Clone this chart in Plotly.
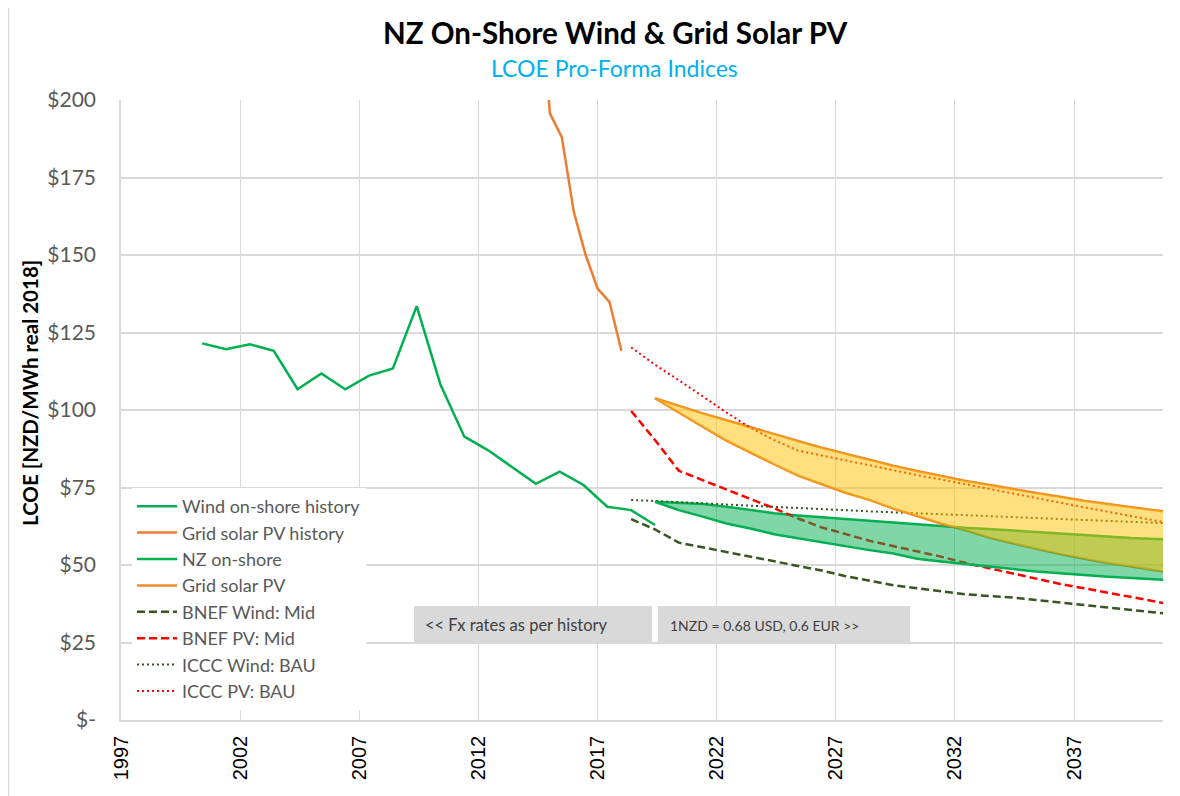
import plotly.graph_objects as go

# ---------------- data ----------------
wind_hist_x = [2000.41, 2001.41, 2002.41, 2003.41, 2004.41, 2005.41, 2006.41, 2007.41,
               2008.41, 2009.41, 2010.41, 2011.41, 2012.41, 2013.41, 2014.41, 2015.41,
               2016.41, 2017.41, 2018.41, 2019.41]
wind_hist_y = [121.5, 119.6, 121.2, 119.1, 106.7, 111.8, 106.7, 111.1, 113.4, 133.5,
               108.1, 91.4, 87.0, 81.7, 76.2, 80.1, 75.8, 68.8, 67.7, 62.9]

solar_hist_x = [2014.5, 2015.0, 2015.5, 2016.0, 2016.5, 2017.0, 2017.5, 2018.0]
solar_hist_y = [245.0, 195.7, 188.0, 164.0, 150.0, 139.2, 134.9, 119.1]

band_x = [2019.41, 2020.41, 2021.41, 2022.41, 2023.41, 2024.41, 2025.41, 2026.41,
          2027.41, 2028.41, 2029.41, 2030.41, 2031.41, 2032.41, 2033.41, 2034.41,
          2035.41, 2036.41, 2037.41, 2038.41, 2039.41, 2040.41, 2041.41]
wind_upper = [70.4, 70.1, 69.7, 68.8, 67.7, 66.7, 66.0, 65.4, 64.8, 64.3, 63.8, 63.2,
              62.6, 62.0, 61.6, 61.2, 60.6, 60.2, 59.7, 59.1, 58.7, 58.4, 58.1]
wind_lower = [70.4, 67.7, 65.6, 63.4, 61.8, 59.9, 58.6, 57.3, 55.9, 54.8, 53.7, 52.0,
              51.1, 50.3, 49.3, 48.6, 47.9, 47.3, 46.7, 46.2, 45.8, 45.4, 44.9]
solar_upper = [103.8, 101.3, 98.9, 96.7, 94.4, 92.1, 90.0, 87.8, 85.8, 83.9, 82.0, 80.3,
               78.7, 77.2, 75.9, 74.5, 73.2, 72.0, 70.7, 69.7, 68.6, 67.5, 66.6]
solar_lower = [103.8, 99.1, 94.6, 90.1, 86.2, 82.5, 78.8, 76.1, 73.3, 71.0, 68.2, 65.8,
               63.4, 61.3, 58.9, 57.0, 55.2, 53.5, 52.0, 50.6, 49.5, 48.2, 47.1]

ref_x = [2018.41, 2019.41, 2020.41, 2021.41, 2022.41, 2023.41, 2024.41, 2025.41,
         2026.41, 2027.41, 2028.41, 2029.41, 2030.41, 2031.41, 2032.41, 2033.41,
         2034.41, 2035.41, 2036.41, 2037.41, 2038.41, 2039.41, 2040.41, 2041.41]
bnef_wind = [64.8, 61.5, 57.2, 55.7, 54.3, 52.9, 51.4, 49.7, 48.2, 46.4, 44.9, 43.5,
             42.5, 41.5, 40.6, 40.0, 39.5, 38.7, 37.8, 37.1, 36.3, 35.5, 34.6, 33.9]
bnef_pv = [99.7, 90.3, 80.4, 77.4, 74.4, 71.5, 68.3, 65.0, 62.1, 60.0, 57.8, 56.1,
           54.4, 52.7, 50.7, 49.0, 47.3, 45.7, 43.9, 42.5, 41.1, 39.8, 38.2, 36.8]
iccc_wind = [71.0, 70.7, 70.3, 69.9, 69.5, 69.1, 68.7, 68.3, 67.9, 67.6, 67.3, 67.0,
             66.7, 66.4, 66.1, 65.8, 65.5, 65.2, 64.9, 64.6, 64.3, 64.0, 63.6, 63.3]
iccc_pv = [120.2, 114.6, 109.6, 104.4, 99.2, 94.3, 90.3, 86.9, 85.3, 83.9, 82.3, 80.6,
           79.0, 77.6, 76.1, 74.6, 73.1, 71.5, 69.9, 68.6, 67.2, 65.8, 64.3, 62.9]

x_ticks = [1997, 2002, 2007, 2012, 2017, 2022, 2027, 2032, 2037]
x_ticktext = ["1997", "2002", "2007", "2012", "2017", "2022", "2027", "2032", "2037"]
y_ticks = [0, 25, 50, 75, 100, 125, 150, 175, 200]
y_ticktext = ["$-", "$25", "$50", "$75", "$100", "$125", "$150", "$175", "$200"]

title_text = "NZ On-Shore Wind & Grid Solar PV"
subtitle_text = "LCOE Pro-Forma Indices"
y_title = "LCOE [NZD/MWh real 2018]"
box1_text = "<< Fx rates as per history"
box2_text = "1NZD = 0.68 USD, 0.6 EUR >>"

# ---------------- styles ----------------
GREEN = "#00B050"
ORANGE_H = "#ED7D31"
ORANGE_F = "#F08C28"
DKGREEN = "#375623"
RED = "#FF0000"
GRID = "#D9D9D9"
FONT = "Lato, 'Open Sans', sans-serif"

OFF = 8  # page body margin in the browser
W, H = 1180 - OFF, 796 - OFF
L, R, T, B = 121 - OFF, 17, 100 - OFF, 76
PW, PH = W - L - R, H - T - B


def px(xp):  # window pixel -> paper x
    return (xp - OFF - L) / PW


def py(yp):  # window pixel -> paper y
    return (H - B - (yp - OFF)) / PH


fig = go.Figure()

fig.add_trace(go.Scatter(x=wind_hist_x, y=wind_hist_y, mode="lines", name="Wind on-shore history",
                         line=dict(color=GREEN, width=2.5)))
fig.add_trace(go.Scatter(x=solar_hist_x, y=solar_hist_y, mode="lines", name="Grid solar PV history",
                         line=dict(color=ORANGE_H, width=2.5)))
fig.add_trace(go.Scatter(x=band_x, y=wind_upper, mode="lines", name="NZ on-shore",
                         line=dict(color=GREEN, width=2.5)))
fig.add_trace(go.Scatter(x=band_x, y=solar_upper, mode="lines", name="Grid solar PV",
                         line=dict(color=ORANGE_F, width=2.5)))
fig.add_trace(go.Scatter(x=ref_x, y=bnef_wind, mode="lines", name="BNEF Wind: Mid",
                         line=dict(color=DKGREEN, width=2.5, dash="8px,4px")))
fig.add_trace(go.Scatter(x=ref_x, y=bnef_pv, mode="lines", name="BNEF PV: Mid",
                         line=dict(color=RED, width=2.5, dash="8px,4px")))
fig.add_trace(go.Scatter(x=ref_x, y=iccc_wind, mode="lines", name="ICCC Wind: BAU",
                         line=dict(color=DKGREEN, width=2, dash="2px,3px")))
fig.add_trace(go.Scatter(x=ref_x, y=iccc_pv, mode="lines", name="ICCC PV: BAU",
                         line=dict(color=RED, width=2, dash="2px,3px")))
fig.add_trace(go.Scatter(x=band_x, y=wind_lower, mode="lines", showlegend=False,
                         line=dict(color=GREEN, width=2.5)))
fig.add_trace(go.Scatter(x=band_x, y=solar_lower, mode="lines", showlegend=False,
                         line=dict(color=ORANGE_F, width=2.5)))

# translucent bands drawn on top of the lines
fig.add_trace(go.Scatter(x=band_x + band_x[::-1], y=wind_upper + wind_lower[::-1],
                         mode="lines", fill="toself", fillcolor="rgba(0,176,80,0.5)",
                         line=dict(width=0), showlegend=False, hoverinfo="skip"))
fig.add_trace(go.Scatter(x=band_x + band_x[::-1], y=solar_upper + solar_lower[::-1],
                         mode="lines", fill="toself", fillcolor="rgba(255,192,0,0.5)",
                         line=dict(width=0), showlegend=False, hoverinfo="skip"))

annotations = [
    dict(text="<b>" + title_text + "</b>", x=px(615), y=py(33), xref="paper", yref="paper",
         showarrow=False, font=dict(family=FONT, size=29.5, color="#000000"),
         xanchor="center", yanchor="middle"),
    dict(text=subtitle_text, x=px(614), y=py(68), xref="paper", yref="paper",
         showarrow=False, font=dict(family=FONT, size=23, color="#00B0F0"),
         xanchor="center", yanchor="middle"),
    dict(text="<b>" + y_title + "</b>", x=px(30), y=py(393), xref="paper", yref="paper",
         showarrow=False, textangle=-90, font=dict(family=FONT, size=20.5, color="#000000"),
         xanchor="center", yanchor="middle"),
    dict(text=box1_text, x=px(424), y=py(625), xref="paper", yref="paper", showarrow=False,
         xanchor="left", yanchor="middle", borderpad=0,
         font=dict(family=FONT, size=16.5, color="#404040")),
    dict(text=box2_text, x=px(669), y=py(625), xref="paper", yref="paper", showarrow=False,
         xanchor="left", yanchor="middle", borderpad=0,
         font=dict(family=FONT, size=14, color="#404040")),
]

shapes = [
    dict(type="line", xref="paper", yref="paper", x0=px(8.5), x1=px(8.5), y0=py(8), y1=py(820),
         line=dict(color=GRID, width=1.5)),
    dict(type="rect", xref="paper", yref="paper", x0=px(414), x1=px(652), y0=py(644), y1=py(606),
         fillcolor="#D9D9D9", line=dict(width=0), layer="above"),
    dict(type="rect", xref="paper", yref="paper", x0=px(658), x1=px(910), y0=py(644), y1=py(606),
         fillcolor="#D9D9D9", line=dict(width=0), layer="above"),
]

fig.update_layout(
    width=W, height=H, autosize=False,
    margin=dict(l=L, r=R, t=T, b=B),
    paper_bgcolor="white", plot_bgcolor="white",
    showlegend=True,
    legend=dict(x=px(132), y=py(488), xanchor="left", yanchor="top",
                bgcolor="white", font=dict(family=FONT, size=18, color="#595959"),
                itemwidth=40, tracegroupgap=0),
    annotations=annotations,
    shapes=shapes,
    xaxis=dict(range=[1997, 2040.73], tickmode="array", tickvals=x_ticks, ticktext=x_ticktext,
               tickangle=-90, showgrid=True, gridcolor=GRID, gridwidth=1,
               showline=True, linecolor=GRID, linewidth=1.5, zeroline=False,
               ticks="", ticklabelstandoff=6,
               tickfont=dict(family="Liberation Sans, Arial, sans-serif", size=20, color="#000000")),
    yaxis=dict(range=[0, 200], tickmode="array", tickvals=y_ticks, ticktext=y_ticktext,
               showgrid=True, gridcolor=GRID, gridwidth=1.5,
               showline=True, linecolor=GRID, linewidth=1.5, zeroline=False,
               ticks="", ticklabelstandoff=19,
               tickfont=dict(family=FONT, size=21, color="#595959")),
)

fig.write_html("out.html")
